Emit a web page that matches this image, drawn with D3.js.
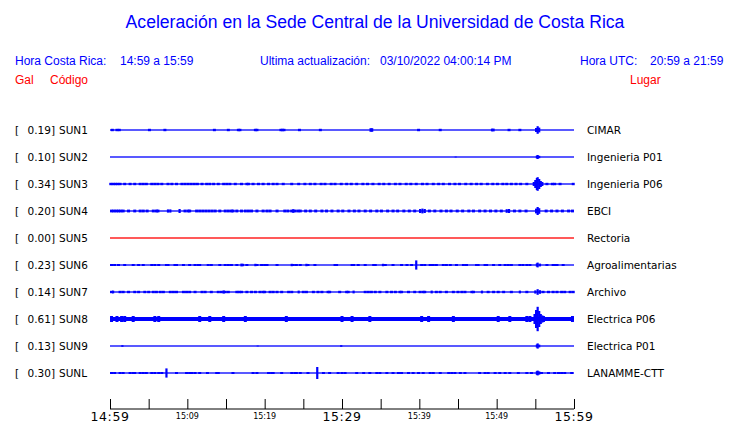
<!DOCTYPE html>
<html><head><meta charset="utf-8">
<script src="https://cdn.jsdelivr.net/npm/d3@7"></script>
<style>
body{margin:0;background:#fff;}
svg{display:block;}
</style></head>
<body>
<svg id="c" width="740" height="423"></svg>
<script>
// ---------- data ----------
const title = "Aceleración en la Sede Central de la Universidad de Costa Rica";
const horaCR = "14:59 a 15:59";
const horaUTC = "20:59 a 21:59";
const actualizacion = "03/10/2022 04:00:14 PM";
const codes  = ["SUN1","SUN2","SUN3","SUN4","SUN5","SUN6","SUN7","SUN8","SUN9","SUNL"];
const gals   = [0.19,0.10,0.34,0.20,0.00,0.23,0.14,0.61,0.13,0.30];
const places = ["CIMAR","Ingenieria P01","Ingenieria P06","EBCI","Rectoria","Agroalimentarias","Archivo","Electrica P06","Electrica P01","LANAMME-CTT"];
// minutes from 14:59 (0..60)
const tickMinutes = [0,5,10,15,20,25,30,35,40,45,50,55,60];
const tickLabels  = ["14:59","","15:09","","15:19","","15:29","","15:39","","15:49","","15:59"];
const majorLabels = ["14:59","15:29","15:59"];
// background noise band (Gal) per station
const noise = [0,0,0.02,0.015,0,0,0.015,0.1,0,0.015];
// typical small-blip amplitude (Gal) per station
const blipAmp = [0.06,0,0.06,0.07,0,0.05,0.06,0.15,0,0.05];
// small blips: times in minutes
const blips = [
  [0.3,0.9,1.2,5.1,7.1,13.5,15.3,16.6,16.8,18.8,19.0,22.1,22.3,22.5,24.5,27.2,39.9,42.7,51.6,53.0],
  [],
  [0.1,0.4,0.7,1.0,1.3,1.9,2.6,3.2,3.9,4.3,4.7,5.4,5.8,6.2,6.7,7.5,8.0,8.6,9.3,9.7,10.1,10.5,10.9,11.3,11.9,12.5,12.9,13.4,14.0,14.7,15.1,15.5,16.2,17.0,17.7,17.9,18.5,19.2,19.8,20.5,21.1,21.6,22.4,23.5,24.4,25.2,25.9,26.5,27.3,27.8,28.6,29.1,29.9,30.6,31.2,31.9,32.7,33.3,34.0,34.8,35.4,36.1,36.9,37.5,38.3,38.9,39.6,40.4,41.0,41.8,42.5,43.1,43.9,44.6,45.2,46.0,46.7,47.4,48.0,48.8,49.5,50.1,50.8,51.3,51.9,52.5,53.1,53.9,56.5,57.2,57.5,58.2,59.9],
  [0.2,0.5,0.8,1.1,1.4,1.7,2.4,3.2,3.9,4.3,4.8,5.6,6.0,6.2,9.7,10.1,10.3,11.2,11.6,12.0,12.4,12.8,13.2,13.6,14.2,14.9,15.3,15.7,15.9,16.4,17.0,17.5,17.9,18.3,19.0,19.8,20.3,20.7,21.6,22.6,23.0,23.5,23.9,24.3,24.6,25.3,25.9,26.6,27.4,28.0,28.7,29.5,30.1,30.9,31.6,32.2,33.0,33.7,34.5,35.1,35.9,36.6,37.2,38.0,38.7,39.4,41.3,42.0,42.8,43.5,44.1,44.9,45.6,46.4,47.0,47.8,48.5,49.2,49.9,50.6,52.3,53.0,53.8,56.4,57.1,57.8,58.5,59.3,59.8],
  [],
  [0.2,0.6,1.1,1.9,3.0,3.7,4.3,5.4,5.8,6.3,7.3,7.5,8.4,8.6,9.5,10.3,11.0,11.4,11.6,12.7,13.1,14.2,14.9,15.3,15.7,16.4,17.7,19.0,19.6,20.0,20.3,21.6,23.7,24.1,24.6,25.6,26.5,29.1,29.3,31.3,31.5,32.1,33.0,34.1,34.3,35.6,36.6,37.7,38.4,39.0,40.3,40.7,41.4,41.6,41.8,42.2,43.1,43.5,44.0,44.8,45.7,46.1,47.4,47.6,48.5,48.7,49.6,50.4,51.1,51.5,51.9,53.0,53.4,53.9,54.3,56.5,57.3,57.5,57.8,58.6],
  [0.2,1.3,1.7,2.4,3.2,3.7,4.5,5.0,5.6,6.0,6.5,6.9,7.8,8.2,8.6,9.5,9.9,10.3,11.0,11.9,12.3,13.1,14.0,14.4,14.9,15.3,16.4,16.7,17.0,17.7,18.3,18.8,19.4,19.8,20.0,20.7,21.1,21.6,22.2,23.1,23.5,25.0,25.4,26.3,26.9,27.4,28.2,28.4,29.7,30.6,30.8,33.0,33.4,33.8,34.3,34.9,35.8,36.4,36.9,37.5,37.7,38.6,39.4,40.1,40.5,40.7,42.2,42.7,43.5,44.4,45.0,45.5,45.9,46.8,47.0,48.9,49.6,50.2,50.9,51.9,53.9,56.0,56.7,57.3,57.8,58.4,58.8,59.5,59.9],
  [0.2,0.9,1.5,1.9,3.0,5.8,6.3,11.6,12.9,14.7,17.5,22.8,30.0,31.3,33.6,40.3,41.2,44.4,50.2,51.7,53.9,54.3,59.8],
  [],
  [0.2,0.6,1.3,1.7,2.6,3.0,3.2,3.9,4.3,4.7,5.4,5.8,6.3,6.7,8.6,9.9,10.3,10.6,11.0,11.6,12.6,13.8,14.0,15.9,18.5,19.0,20.5,20.9,21.1,22.2,23.5,23.9,24.1,24.6,25.6,27.6,28.4,29.5,30.0,30.4,31.9,32.8,33.6,34.5,34.9,35.8,36.6,37.3,37.7,38.6,39.2,39.9,40.5,41.4,41.8,42.7,43.8,44.2,44.6,45.3,45.9,47.8,48.5,48.9,49.8,50.4,51.1,51.7,52.8,53.9,54.5,55.8,56.7,57.5,58.0,58.4,58.8,59.7]
];
// larger peaks: [minute, Gal]
const peaks = [
  [[33.7,0.09],[33.9,0.09],[49.4,0.07],[49.6,0.07],[55.1,0.1],[55.3,0.19],[55.5,0.12]],
  [[44.7,0.02],[55.2,0.07],[55.3,0.10],[55.5,0.06]],
  [[54.8,0.1],[55.0,0.2],[55.2,0.3],[55.3,0.34],[55.5,0.25],[55.7,0.15],[55.9,0.1]],
  [[7.5,0.08],[7.8,0.08],[9.0,0.1],[23.7,0.09],[40.1,0.1],[40.4,0.12],[40.7,0.1],[51.3,0.09],[51.6,0.1],[55.1,0.12],[55.3,0.2],[55.5,0.14]],
  [],
  [[17.0,0.07],[17.2,0.06],[18.8,0.06],[23.5,0.06],[25.4,0.06],[35.3,0.06],[39.6,0.23],[55.2,0.08],[55.3,0.12],[55.6,0.07]],
  [[0.4,0.07],[14.7,0.08],[24.4,0.07],[31.5,0.07],[41.6,0.07],[48.1,0.07],[53.0,0.07],[55.0,0.08],[55.3,0.14],[55.6,0.09]],
  [[54.9,0.25],[55.1,0.45],[55.3,0.61],[55.5,0.4],[55.7,0.25],[55.9,0.18],[56.1,0.15]],
  [[1.6,0.04],[19.1,0.02],[29.9,0.04],[55.2,0.08],[55.3,0.13],[55.5,0.07]],
  [[7.3,0.23],[26.8,0.30],[55.2,0.09],[55.3,0.12],[55.5,0.08]]
];

// ---------- drawing ----------
const svg = d3.select("#c");
const BLUE = "#0000ff", RED = "#ff0000", BLACK = "#000";
const HFONT = "'Liberation Sans', Arial, sans-serif";
const LFONT = "'DejaVu Sans', sans-serif";

const x = d3.scaleLinear().domain([0,60]).range([110,574]);
const row = d3.scalePoint().domain(codes).range([130,373]);
const amp = d3.scaleLinear().domain([0,0.61]).range([0,12.2]);

// header
svg.append("text").attr("x",375).attr("y",28).attr("text-anchor","middle")
  .attr("font-family",HFONT).attr("font-size",17.6).attr("fill",BLUE).text(title);
const hdr = [
  [15,65,"Hora Costa Rica:",BLUE],[120,65,horaCR,BLUE],
  [260,65,"Ultima actualización:",BLUE],[380,65,actualizacion,BLUE],
  [580,65,"Hora UTC:",BLUE],[650,65,horaUTC,BLUE],
  [15,84,"Gal",RED],[50,84,"Código",RED],[630,84,"Lugar",RED]
];
svg.selectAll("text.hdr").data(hdr).join("text").attr("class","hdr")
  .attr("x",d=>d[0]).attr("y",d=>d[1]).attr("font-family",HFONT).attr("font-size",12)
  .attr("fill",d=>d[3]).text(d=>d[2]);

// traces
codes.forEach((c,i)=>{
  const y0 = row(c);
  const col = gals[i] === 0 ? RED : BLUE;
  const g = svg.append("g");
  const h = Math.max(1.3, 2*amp(noise[i]));
  g.append("rect").attr("x",x(0)).attr("width",x(60)-x(0))
    .attr("y",y0-h/2).attr("height",h).attr("fill",col);
  g.selectAll("rect.b").data(blips[i]).join("rect").attr("class","b")
    .attr("x",d=>x(d)-1.5).attr("width",3)
    .attr("y",y0-amp(blipAmp[i])).attr("height",2*amp(blipAmp[i])).attr("fill",col);
  g.selectAll("rect.p").data(peaks[i]).join("rect").attr("class","p")
    .attr("x",d=>x(d[0])-1.1).attr("width",2.2)
    .attr("y",d=>y0-amp(d[1])).attr("height",d=>2*amp(d[1])).attr("fill",col);
  // labels
  svg.append("text").attr("x",15).attr("y",y0+4).attr("font-family",LFONT).attr("font-size",10.5).attr("fill",BLACK).text("[");
  svg.append("text").attr("x",27.5).attr("y",y0+4).attr("font-family",LFONT).attr("font-size",10.5).attr("fill",BLACK).text(gals[i].toFixed(2)+"]");
  svg.append("text").attr("x",59).attr("y",y0+4).attr("font-family",LFONT).attr("font-size",10.5).attr("fill",BLACK).text(c);
  svg.append("text").attr("x",587).attr("y",y0+4).attr("font-family",LFONT).attr("font-size",10.5).attr("fill",BLACK).text(places[i]);
});

// time axis
const axis = d3.axisTop(x).tickValues(tickMinutes).tickSize(10).tickFormat("");
const ag = svg.append("g").attr("transform","translate(0,409)").call(axis);
ag.select(".domain").attr("stroke",BLACK).attr("d",`M${x(0)},0H${x(60)}`);
ag.selectAll(".tick line").attr("stroke",BLACK);
svg.selectAll("text.tl").data(tickMinutes.filter((d,i)=>tickLabels[i]!=="")).join("text").attr("class","tl")
  .attr("x",d=>x(d)).attr("text-anchor","middle").attr("font-family",LFONT)
  .each(function(d){
    const lab = tickLabels[tickMinutes.indexOf(d)];
    const big = majorLabels.includes(lab);
    d3.select(this).attr("y",big?421:418.5).attr("font-size",big?12.5:8)
      .attr("letter-spacing",big?0.6:0).text(lab);
  });
</script>
</body></html>
